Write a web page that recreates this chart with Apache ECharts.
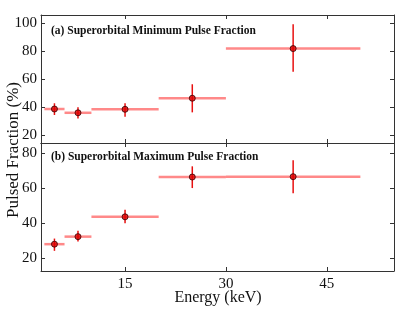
<!DOCTYPE html>
<html><head><meta charset="utf-8">
<script src="https://cdn.jsdelivr.net/npm/echarts@6/dist/echarts.min.js"></script>
<style>html,body{margin:0;padding:0;background:#fff}#c{width:415px;height:312px}</style>
</head><body><div id="c"></div>
<script>
const energy = [4.5, 8, 15, 25, 40];
const binLow = [3, 6, 10, 20, 30];
const binHigh = [6, 10, 20, 30, 50];
const minPF = [38.8, 36.1, 38.6, 46.5, 82.0];
const minLo = [34.5, 32.0, 33.3, 36.4, 65.4];
const minHi = [42.9, 40.0, 42.9, 56.5, 99.3];
const maxPF = [28.0, 32.3, 43.6, 66.3, 66.5];
const maxLo = [24.2, 29.5, 40.0, 60.0, 57.1];
const maxHi = [31.2, 35.6, 47.6, 72.4, 75.9];
const xTicks = [15, 30, 45];
const yTicksTop = [20, 40, 60, 80, 100];
const yTicksBot = [20, 40, 60, 80];
const panelTitles = ['(a) Superorbital Minimum Pulse Fraction', '(b) Superorbital Maximum Pulse Fraction'];

const font = 'Liberation Serif';
const chart = echarts.init(document.getElementById('c'));
const axCol = '#333';

function xAx(grid, pos, labels) {
  return {type:'value', gridIndex:grid, position:pos, min:2.5, max:55,
    axisLine:{show:true, onZero:false, lineStyle:{color:axCol, width:1}},
    axisTick:{show:true, inside:true, length:4, customValues:xTicks, lineStyle:{color:axCol}},
    axisLabel:{show:labels, customValues:xTicks, color:'#111', fontFamily:font, fontSize:15, margin:6},
    splitLine:{show:false}};
}
function yAx(grid, pos, min, max, ticks, labels) {
  return {type:'value', gridIndex:grid, position:pos, min:min, max:max,
    axisLine:{show:true, onZero:false, lineStyle:{color:axCol, width:1}},
    axisTick:{show:true, inside:true, length:4, customValues:ticks, lineStyle:{color:axCol}},
    axisLabel:{show:labels, customValues:ticks, color:'#111', fontFamily:font, fontSize:15, margin:4},
    splitLine:{show:false}};
}

function errSeries(xi, yi, vals, lo, hi) {
  const data = energy.map((e,i)=>[e, vals[i], binLow[i], binHigh[i], lo[i], hi[i]]);
  return [{
    type:'custom', xAxisIndex:xi, yAxisIndex:yi, data:data, z:2,
    renderItem:function(params, api){
      const y = api.value(1);
      const a = api.coord([api.value(2), y]);
      const b = api.coord([api.value(3), y]);
      const c = api.coord([api.value(0), api.value(4)]);
      const d = api.coord([api.value(0), api.value(5)]);
      return {type:'group', children:[
        {type:'line', shape:{x1:a[0], y1:a[1], x2:b[0], y2:b[1]}, style:{stroke:'rgba(255,40,40,0.55)', lineWidth:2.5}},
        {type:'line', shape:{x1:c[0], y1:c[1], x2:d[0], y2:d[1]}, style:{stroke:'#e81010', lineWidth:1.5}}
      ]};
    }
  }, {
    type:'scatter', xAxisIndex:xi, yAxisIndex:yi, z:3,
    data: energy.map((e,i)=>[e, vals[i]]),
    symbol:'circle', symbolSize:6,
    itemStyle:{color:'#dd0000', borderColor:'#300', borderWidth:1}
  }];
}

chart.setOption({
  animation:false,
  backgroundColor:'#fff',
  grid:[{left:41, right:21, top:15, height:128},{left:41, right:21, top:143, height:128}],
  xAxis:[xAx(0,'bottom',false), xAx(0,'top',false), xAx(1,'bottom',true), xAx(1,'top',false)],
  yAxis:[yAx(0,'left',14.5,106,yTicksTop,true), yAx(0,'right',14.5,106,yTicksTop,false),
         yAx(1,'left',12.7,85.7,yTicksBot,true), yAx(1,'right',12.7,85.7,yTicksBot,false)],
  graphic:[
    {type:'text', left:51, top:25, style:{text:panelTitles[0], font:'bold 11.5px "Liberation Serif"', fill:'#111'}},
    {type:'text', left:51, top:151, style:{text:panelTitles[1], font:'bold 11.5px "Liberation Serif"', fill:'#111'}},
    {type:'text', x:218, y:298, style:{text:'Energy (keV)', font:'16px "Liberation Serif"', fill:'#111', align:'center', verticalAlign:'middle'}},
    {type:'text', x:14, y:150, rotation:Math.PI/2, style:{text:'Pulsed Fraction (%)', font:'17px "Liberation Serif"', fill:'#111', align:'center', verticalAlign:'middle'}}
  ],
  series:[...errSeries(0,0,minPF,minLo,minHi), ...errSeries(2,2,maxPF,maxLo,maxHi)]
});
</script></body></html>
